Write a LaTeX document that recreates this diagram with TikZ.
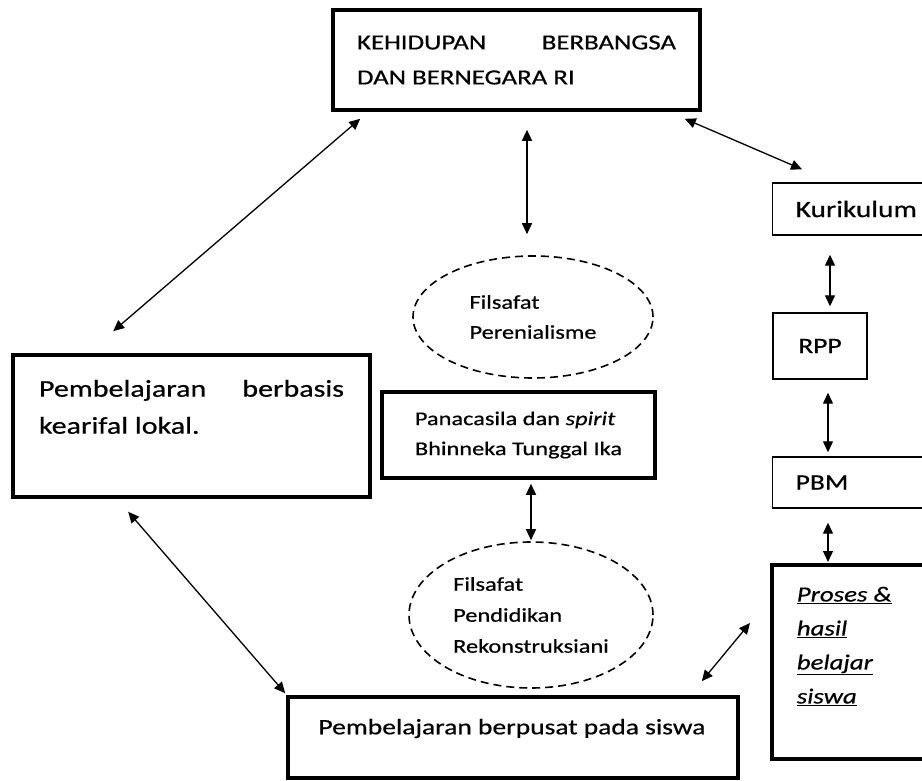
\documentclass[tikz,border=0pt]{standalone}
\usepackage{fontspec}
\setmainfont{Carlito}[FakeStretch=1.25, FakeBold=0.6]
\usetikzlibrary{shapes.geometric, arrows.meta, calc}

\begin{document}
\begin{tikzpicture}[x=1pt, y=-1pt,
        thickbox/.style={draw, rectangle, line width=3.6pt, inner sep=0pt},
        thinbox/.style={draw, rectangle, line width=1.4pt, inner sep=0pt},
        dashring/.style={draw, ellipse, line width=1.6pt, dash pattern=on 8pt off 5pt, inner sep=0pt, align=left},
        link/.style={line width=1.3pt, {Triangle[length=11pt,width=10pt]}-{Triangle[length=11pt,width=10pt]}}]
        \useasboundingbox (0,0) rectangle (922,781);

        % Draw the top box (national life)
        \node[thickbox, minimum width=367, minimum height=100] (hidup) at (516.5,60)
            {\parbox{319pt}{\fontsize{21.5}{35}\selectfont KEHIDUPAN\hfill BERBANGSA\\DAN BERNEGARA RI}};

        % Left box (local wisdom)
        \node[thickbox, minimum width=357, minimum height=142] (lokal) at (191.5,426)
            {\parbox[c][92pt][t]{305pt}{\fontsize{24}{37}\selectfont Pembelajaran\hfill berbasis\\kearifal lokal.}};

        % Middle column: two dashed ellipses round the Pancasila box
        \node[dashring, minimum width=240, minimum height=122, font=\fontsize{19.5}{30}\selectfont] (perenial) at (533,317)
            {Filsafat\\Perenialisme};
        \node[thickbox, minimum width=273, minimum height=86, align=left, font=\fontsize{19.5}{30}\selectfont] (pancasila) at (518.5,435)
            {Panacasila dan \textit{spirit}\\Bhinneka Tunggal Ika};
        \node[dashring, minimum width=244, minimum height=146, font=\fontsize{19.5}{31}\selectfont] (rekon) at (531,615)
            {Filsafat\\Pendidikan\\Rekonstruksiani};

        % Bottom box (student centred learning)
        \node[thickbox, minimum width=450, minimum height=81] (pusat) at (513,737.5)
            {\parbox[c][37pt][t]{389pt}{\fontsize{22}{30}\selectfont Pembelajaran berpusat pada siswa}};

        % Right column, cut off by the page edge
        \node[thinbox, anchor=west, text width=145, inner xsep=23pt, minimum height=52, font=\fontsize{23.5}{28}\selectfont] (kurikulum) at (772,209) {Kurikulum};
        \node[thinbox, minimum width=94, minimum height=66, font=\fontsize{22}{26}\selectfont] (rpp) at (820,346) {RPP};
        \node[thinbox, anchor=west, text width=145, inner xsep=23pt, minimum height=51, font=\fontsize{22}{26}\selectfont] (pbm) at (772,482.5) {PBM};
        \node[thickbox, anchor=north west, minimum height=194, inner xsep=25pt] (proses) at (770,563)
            {\parbox[c][150pt][t]{130pt}{\fontsize{21.5}{34}\selectfont\itshape
             \underline{Proses \&}\\\underline{hasil}\\\underline{belajar}\\\underline{siswa}}};

        % Connectors
        \draw[link, shorten <=18pt, shorten >=21pt] ([xshift=-6pt]perenial.north |- hidup.south) -- ([xshift=-6pt]perenial.north);
        \draw[link, shorten <=4pt, shorten >=1pt] (rekon.north |- pancasila.south) -- (rekon.north);
        \draw[link] ($(hidup.south west)+(29,7)$) -- ($(lokal.north west)+(102,-22)$);
        \draw[link] ($(hidup.south east)+(-17,7)$) -- ($(kurikulum.north west)+(30,-13)$);
        \draw[link, shorten <=19pt, shorten >=6pt] ([xshift=10pt]rpp.north |- kurikulum.south) -- ([xshift=10pt]rpp.north);
        \draw[link, shorten <=13pt, shorten >=4pt] ([xshift=8pt]rpp.south) -- ([xshift=8pt]rpp.south |- pbm.north);
        \draw[link, shorten <=14pt, shorten >=1pt] ([xshift=8pt]rpp.south |- pbm.south) -- ([xshift=8pt]rpp.south |- proses.north);
        \draw[link] ($(lokal.south west)+(117,13)$) -- ($(pusat.north west)+(-1,-2)$);
        \draw[link] ($(pusat.north east)+(-38,-14)$) -- ($(proses.north west)+(-20,60)$);
    \end{tikzpicture}
\end{document}
